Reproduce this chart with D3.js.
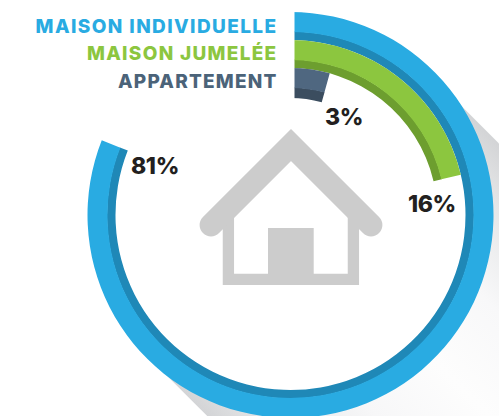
<!DOCTYPE html>
<html><head><meta charset="utf-8">
<script src="https://cdn.jsdelivr.net/npm/d3@7/dist/d3.min.js"></script>
<style>html,body{margin:0;padding:0;background:#fff;overflow:hidden}svg{display:block}</style>
</head><body><div id="c"></div>
<script>
const categories = ["MAISON INDIVIDUELLE", "MAISON JUMELÉE", "APPARTEMENT"];
const shares = [81, 16, 3];
const shareLabels = ["81%", "16%", "3%"];
// arc length as actually drawn in the picture, in percent of the full circle
const drawnSweep = [81, 21.3, 4.3];
const mainColors = ["#29abe2", "#8cc63f", "#4f6780"];
const darkColors = ["#1f88b7", "#6d9e2f", "#3b4d5f"];
const legendColors = ["#29abe2", "#8cc63f", "#4b6379"];

const W = 499, H = 416, cx = 290.5, cy = 215;
const svg = d3.select("#c").append("svg").attr("width", W).attr("height", H);
const defs = svg.append("defs");

const angle = d3.scaleLinear().domain([0, 100]).range([0, 2 * Math.PI]);
const bands = d3.scaleOrdinal().domain(categories).range([[175, 183, 203], [147, 155, 175], [117, 127, 147]]);
const arc = d3.arc();

// long shadow
const R = 203, Ru = 198, Rl = 201, k = Math.SQRT1_2, L = 500;
const grad = defs.append("linearGradient").attr("id", "sh").attr("gradientUnits", "userSpaceOnUse")
  .attr("x1", cx - Rl * k).attr("y1", cy + Rl * k).attr("x2", cx + Ru * k).attr("y2", cy - Ru * k);
[[0, "#d3d4d6"], [0.12, "#e8e9ea"], [0.3, "#f7f7f8"], [0.5, "#fdfdfd"], [0.7, "#f8f8f9"], [0.88, "#e6e7e8"], [1, "#d3d4d6"]]
  .forEach(s => grad.append("stop").attr("offset", s[0]).attr("stop-color", s[1]));
svg.append("path").attr("fill", "url(#sh)").attr("d", d3.line()([
  [cx + Ru * k, cy - Ru * k], [cx + Ru * k + L, cy - Ru * k + L],
  [cx - Rl * k + L, cy + Rl * k + L], [cx - Rl * k, cy + Rl * k]
]));
svg.append("circle").attr("cx", cx).attr("cy", cy).attr("r", 190).attr("fill", "#fff");

// flat vertical start edge of the ring
const clip = defs.append("clipPath").attr("id", "start");
clip.append("rect").attr("x", 294.5).attr("y", 0).attr("width", W).attr("height", H);
clip.append("rect").attr("x", 0).attr("y", 110).attr("width", W).attr("height", H);

const ring = svg.append("g").attr("clip-path", "url(#start)").append("g").attr("transform", `translate(${cx},${cy})`);
categories.forEach((c, i) => {
  const [r0, r1, r2] = bands(c);
  const a = angle(drawnSweep[i]);
  ring.append("path").attr("fill", darkColors[i]).attr("d", arc({innerRadius: r0, outerRadius: r1 + 0.5, startAngle: 0, endAngle: a}));
  ring.append("path").attr("fill", mainColors[i]).attr("d", arc({innerRadius: r1, outerRadius: r2, startAngle: 0, endAngle: a}));
});

// house
const house = svg.append("g").attr("fill", "none").attr("stroke", "#cccccc");
house.append("path").attr("stroke-width", 11.3).attr("stroke-linejoin", "miter")
  .attr("d", "M228.4,212V279.3H353.4V212");
house.append("path").attr("stroke-width", 22.8).attr("stroke-linecap", "round").attr("stroke-linejoin", "miter")
  .attr("d", "M211,225L291,145L371,225");
svg.append("rect").attr("x", 268).attr("y", 228).attr("width", 45.7).attr("height", 46).attr("fill", "#cccccc");

// legend
const font = "Inter, 'Noto Sans', sans-serif";
const legendY = [33, 60, 88];
const legendSpacing = [1.4, 1.3, 1.2];
categories.forEach((c, i) => {
  svg.append("text").attr("x", 277.5).attr("y", legendY[i]).attr("text-anchor", "end")
    .attr("font-family", font).attr("font-weight", 800).attr("font-size", 19)
    .attr("letter-spacing", legendSpacing[i]).attr("fill", legendColors[i]).text(c);
});

// value labels
const labelPos = [[131, 174], [408, 212], [325, 125]];
shares.forEach((s, i) => {
  svg.append("text").attr("x", labelPos[i][0]).attr("y", labelPos[i][1])
    .attr("font-family", font).attr("font-weight", 800).attr("font-size", 23)
    .attr("letter-spacing", -0.4).attr("fill", "#231f20").text(shareLabels[i]);
});
</script></body></html>
